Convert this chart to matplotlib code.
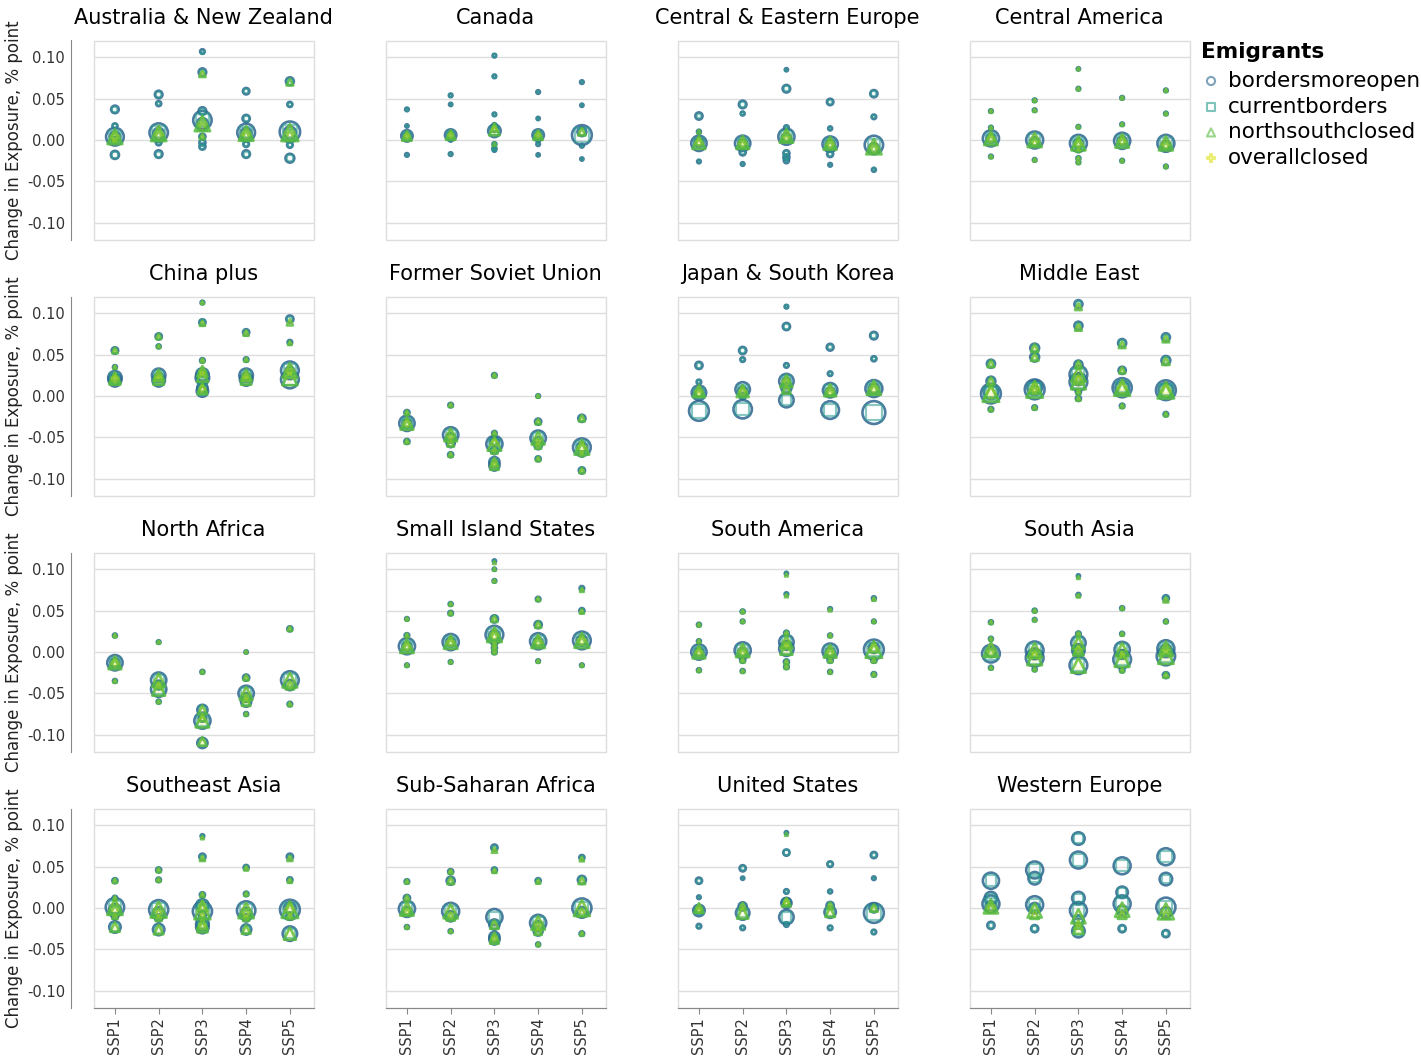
import numpy as np
import matplotlib.pyplot as plt
from matplotlib.patches import Rectangle

N = None  # scenario has no point at this spot

ssp_labels = ['SSP1', 'SSP2', 'SSP3', 'SSP4', 'SSP5']
scenarios = ['bordersmoreopen', 'currentborders', 'northsouthclosed', 'overallclosed']

# rows: (ssp, size, bordersmoreopen, currentborders, northsouthclosed, overallclosed)
aus_nz = [
    (1, 120, .004, .004, .004, .004), (1, 40, .004, .004, .004, .004), (1, 12, .0, .0, .0, .0),
    (1, 10, .017, .017, N, N), (1, 22, .037, .037, N, N), (1, 25, -.018, -.018, N, N),
    (2, 130, .009, .009, .008, .008), (2, 45, .008, .008, .006, .006), (2, 12, -.003, -.003, N, N),
    (2, 10, .044, .044, N, N), (2, 22, .055, .055, N, N), (2, 22, -.017, -.017, N, N),
    (3, 130, .024, .024, .020, .020), (3, 45, .020, .020, .017, .017), (3, 22, .035, .035, N, N),
    (3, 22, .082, .081, .080, .080), (3, 8, .107, .106, N, N), (3, 14, .004, .004, .004, .004),
    (3, 14, -.003, -.003, N, N), (3, 14, -.008, -.008, N, N),
    (4, 120, .009, .009, .008, .008), (4, 45, .008, .008, .006, .006), (4, 12, -.005, -.005, N, N),
    (4, 20, .026, .026, N, N), (4, 16, .059, .059, N, N), (4, 22, -.017, -.017, N, N),
    (5, 160, .010, .010, .009, .009), (5, 55, .009, .009, .006, .006), (5, 12, -.006, -.006, N, N),
    (5, 10, .043, .043, N, N), (5, 24, .071, .070, .070, N), (5, 30, -.022, -.022, N, N),
]
canada = [
    (1, 50, .005, .005, .005, .005), (1, 15, .005, .005, .005, .005), (1, 5, .037, .037, N, N),
    (1, 4, .017, .017, N, N), (1, 5, -.018, -.018, N, N),
    (2, 50, .006, .006, .006, .006), (2, 15, .006, .006, .006, .006), (2, 5, .054, .054, N, N),
    (2, 4, .043, .043, N, N), (2, 4, .0, .0, N, N), (2, 5, -.017, -.017, N, N),
    (3, 60, .011, .011, .012, .012), (3, 20, .014, .014, .014, .014), (3, 5, .102, .102, N, N),
    (3, 5, .077, .077, N, N), (3, 5, .031, .031, N, N), (3, 6, .018, .018, .018, N),
    (3, 6, -.005, -.005, -.005, N), (3, 6, -.010, -.010, N, N), (3, 5, -.012, -.012, N, N),
    (4, 50, .006, .006, .006, .006), (4, 15, .006, .006, .006, .006), (4, 5, .058, .058, N, N),
    (4, 4, .026, .026, N, N), (4, 5, .0, .0, N, N), (4, 5, -.005, -.005, N, N), (4, 4, -.018, -.018, N, N),
    (5, 150, .006, .006, N, N), (5, 30, .010, .010, .010, .010), (5, 5, .070, .070, N, N),
    (5, 4, .042, .042, N, N), (5, 5, -.007, -.007, N, N), (5, 4, -.023, -.023, N, N),
]
ce_europe = [
    (1, 90, -.004, -.004, -.003, -.003), (1, 30, -.003, -.003, -.002, -.002), (1, 20, .029, .029, N, N),
    (1, 6, .010, .010, .010, N), (1, 5, -.026, -.026, N, N),
    (2, 90, -.004, -.004, -.003, -.003), (2, 30, -.004, -.004, -.004, -.004), (2, 22, .043, .043, N, N),
    (2, 6, .032, .032, N, N), (2, 14, -.015, -.015, N, N), (2, 5, -.029, -.029, N, N),
    (3, 100, .004, .004, .005, .005), (3, 30, .003, .003, .003, .003), (3, 4, .085, .085, N, N),
    (3, 22, .062, .062, N, N), (3, 8, .015, .015, N, N), (3, 14, -.016, -.016, N, N),
    (3, 14, -.021, -.021, N, N), (3, 10, -.025, -.025, N, N),
    (4, 90, -.005, -.005, -.004, -.004), (4, 30, -.005, -.005, -.005, -.005), (4, 16, .046, .046, N, N),
    (4, 6, .014, .014, N, N), (4, 14, -.017, -.017, N, N), (4, 5, -.030, -.030, N, N),
    (5, 130, -.006, -.006, -.008, -.008), (5, 40, -.010, -.010, -.010, -.010), (5, 20, .056, .056, N, N),
    (5, 8, .028, .028, N, N), (5, 6, -.036, -.036, N, N),
]
central_america = [
    (1, 100, .002, .002, .002, .002), (1, 30, .002, .002, .002, .002), (1, 5, .035, .035, .035, .035),
    (1, 5, .015, .015, .015, .015), (1, 5, -.020, -.020, -.020, -.020),
    (2, 110, .0, .0, .0, .0), (2, 30, -.002, -.002, -.002, -.002), (2, 5, .048, .048, .048, .048),
    (2, 5, .036, .036, .036, .036), (2, 5, -.024, -.024, -.024, -.024),
    (3, 110, -.004, -.004, -.004, -.004), (3, 30, -.004, -.004, -.004, -.004), (3, 4, .086, .086, .086, .086),
    (3, 5, .062, .062, .062, .062), (3, 5, .016, .016, .016, .016), (3, 8, -.012, -.012, -.012, -.012),
    (3, 6, -.022, -.022, -.022, -.022), (3, 5, -.027, -.027, -.027, -.027),
    (4, 100, -.001, -.001, -.001, -.001), (4, 30, -.001, -.001, -.001, -.001), (4, 5, .051, .051, .051, .051),
    (4, 5, .019, .019, .019, .019), (4, 5, -.025, -.025, -.025, -.025),
    (5, 110, -.004, -.004, -.004, -.004), (5, 30, -.006, -.006, -.006, -.006), (5, 5, .060, .060, .060, .060),
    (5, 5, .032, .032, .032, .032), (5, 5, -.032, -.032, -.032, -.032),
]
china_plus = [
    (1, 70, .022, .022, .022, .022), (1, 60, .019, .019, .020, .020), (1, 20, .022, .022, .022, .022),
    (1, 16, .055, .055, .055, .055), (1, 6, .035, .035, .035, .035),
    (2, 70, .025, .025, .025, .025), (2, 60, .019, .019, .020, .020), (2, 20, .024, .024, .024, .024),
    (2, 15, .072, .072, .072, .072), (2, 6, .060, .060, .060, .060),
    (3, 60, .026, .026, .030, .030), (3, 70, .022, .022, .024, .024), (3, 40, .010, .010, .010, .010),
    (3, 50, .006, .006, .008, .008), (3, 20, .028, .028, .028, .028), (3, 5, .113, .113, .113, .113),
    (3, 15, .089, .089, .088, .088), (3, 8, .043, .043, .043, .043),
    (4, 70, .025, .025, .025, .025), (4, 60, .020, .020, .020, .020), (4, 20, .024, .024, .024, .024),
    (4, 15, .077, .077, .076, .076), (4, 8, .044, .044, .044, .044),
    (5, 120, .031, .031, .031, .031), (5, 120, .020, .020, .022, .022), (5, 30, .030, .030, .030, .030),
    (5, 20, .093, .093, .089, .089), (5, 8, .065, .065, .064, .064),
]
fsu = [
    (1, 90, -.033, -.033, -.033, -.033), (1, 30, -.033, -.033, -.033, -.033), (1, 10, -.020, -.020, -.020, -.020),
    (1, 10, -.055, -.055, -.055, -.055),
    (2, 90, -.047, -.047, -.047, -.047), (2, 30, -.050, -.050, -.050, -.050), (2, 25, -.057, -.057, -.057, -.057),
    (2, 8, -.011, -.011, -.011, -.011), (2, 10, -.071, -.071, -.071, -.071),
    (3, 100, -.058, -.058, -.058, -.058), (3, 30, -.055, -.055, -.055, -.055), (3, 40, -.080, -.080, -.080, -.080),
    (3, 40, -.084, -.084, -.084, -.084), (3, 8, .025, .025, .025, .025), (3, 8, -.045, -.045, -.045, -.045),
    (3, 20, -.066, -.066, -.066, -.066),
    (4, 90, -.051, -.051, -.051, -.051), (4, 30, -.055, -.055, -.055, -.055), (4, 5, .0, .0, .0, .0),
    (4, 15, -.031, -.031, -.031, -.031), (4, 10, -.076, -.076, -.076, -.076), (4, 20, -.060, -.060, -.060, -.060),
    (5, 120, -.062, -.062, -.062, -.062), (5, 40, -.062, -.062, -.062, -.062), (5, 20, -.027, -.027, -.027, -.027),
    (5, 15, -.090, -.090, -.090, -.090), (5, 10, -.070, -.070, -.070, -.070),
]
japan_korea = [
    (1, 80, .004, .004, .006, .006), (1, 30, .004, .004, .004, .004), (1, 150, -.018, -.018, N, N),
    (1, 20, .037, .037, N, N), (1, 8, .017, .017, N, N),
    (2, 80, .008, .008, .006, .006), (2, 30, .006, .006, .006, .006), (2, 130, -.016, -.016, N, N),
    (2, 20, .055, .055, N, N), (2, 8, .044, .044, N, N), (2, 15, .0, .0, N, N),
    (3, 80, .018, .018, .018, .018), (3, 40, .010, .010, .008, .008), (3, 80, -.005, -.005, N, N),
    (3, 5, .108, .108, N, N), (3, 20, .084, .084, N, N), (3, 8, .037, .037, N, N), (3, 20, .018, .018, .018, .018),
    (4, 80, .007, .007, .007, .007), (4, 30, .005, .005, .005, .005), (4, 120, -.017, -.017, N, N),
    (4, 18, .059, .059, N, N), (4, 8, .027, .027, N, N),
    (5, 110, .009, .009, .010, .010), (5, 40, .009, .009, .009, .009), (5, 200, -.020, -.020, N, N),
    (5, 22, .073, .073, N, N), (5, 10, .045, .045, N, N),
]
middle_east = [
    (1, 150, .003, .003, .003, .003), (1, 80, .005, .005, .005, .005), (1, 30, .018, .018, .018, .018),
    (1, 25, .039, .039, .039, .039), (1, 8, -.016, -.016, -.016, -.016),
    (2, 150, .008, .008, .008, .008), (2, 80, .010, .010, .010, .010), (2, 30, .058, .058, .058, .058),
    (2, 30, .047, .047, .047, .047), (2, 8, -.014, -.014, -.014, -.014), (2, 20, .008, .008, .008, .008),
    (3, 120, .026, .026, .026, .026), (3, 120, .017, .017, .017, .017), (3, 50, .020, .020, .020, .020),
    (3, 25, .111, .111, .108, .108), (3, 25, .085, .085, .083, .083), (3, 25, .038, .038, .038, .038),
    (3, 10, .005, .005, .005, .005), (3, 10, -.003, -.003, -.003, -.003),
    (4, 140, .010, .010, .010, .010), (4, 70, .010, .010, .010, .010), (4, 25, .064, .064, .062, .062),
    (4, 20, .031, .031, .031, .031), (4, 8, -.012, -.012, -.012, -.012),
    (5, 150, .007, .007, .007, .007), (5, 80, .007, .007, .007, .007), (5, 25, .071, .071, .069, .069),
    (5, 30, .043, .043, .042, .042), (5, 8, -.022, -.022, -.022, -.022),
]
north_africa = [
    (1, 90, -.013, -.013, -.013, -.013), (1, 30, -.013, -.013, -.013, -.013), (1, 6, .020, .020, .020, .020),
    (1, 6, -.035, -.035, -.035, -.035),
    (2, 90, -.034, -.034, -.034, -.034), (2, 90, -.045, -.045, -.045, -.045), (2, 30, -.040, -.040, -.040, -.040),
    (2, 5, .012, .012, .012, .012), (2, 6, -.060, -.060, -.060, -.060),
    (3, 100, -.083, -.083, -.083, -.083), (3, 40, -.070, -.070, -.070, -.070), (3, 40, -.110, -.110, -.108, -.108),
    (3, 20, -.080, -.080, -.080, -.080), (3, 6, -.024, -.024, -.024, -.024),
    (4, 90, -.050, -.050, -.050, -.050), (4, 40, -.060, -.060, -.060, -.060), (4, 30, -.055, -.055, -.055, -.055),
    (4, 15, -.031, -.031, -.031, -.031), (4, 4, .0, .0, .0, .0), (4, 6, -.075, -.075, -.075, -.075),
    (5, 120, -.034, -.034, -.034, -.034), (5, 40, -.040, -.040, -.040, -.040), (5, 10, .028, .028, .028, .028),
    (5, 8, -.063, -.063, -.063, -.063),
]
small_islands = [
    (1, 100, .007, .007, .007, .007), (1, 30, .007, .007, .007, .007), (1, 5, .040, .040, .040, .040),
    (1, 8, .020, .020, .020, .020), (1, 5, -.016, -.016, -.016, -.016),
    (2, 100, .012, .012, .012, .012), (2, 30, .012, .012, .012, .012), (2, 6, .058, .058, .058, .058),
    (2, 8, .047, .047, .047, .047), (2, 5, -.012, -.012, -.012, -.012),
    (3, 120, .021, .021, .021, .021), (3, 40, .020, .020, .020, .020), (3, 20, .040, .040, .040, .040),
    (3, 4, .110, .110, .108, .108), (3, 4, .100, .100, .100, .100), (3, 5, .086, .086, .086, .086),
    (3, 10, .010, .010, .010, .010), (3, 10, .005, .005, .005, .005), (3, 8, .0, .0, .0, .0),
    (4, 100, .013, .013, .013, .013), (4, 30, .012, .012, .012, .012), (4, 20, .033, .033, .033, .033),
    (4, 8, .064, .064, .064, .064), (4, 5, -.011, -.011, -.011, -.011),
    (5, 120, .014, .014, .014, .014), (5, 40, .014, .014, .014, .014), (5, 8, .077, .077, .075, .075),
    (5, 10, .050, .050, .049, .049), (5, 5, -.016, -.016, -.016, -.016),
]
south_america = [
    (1, 90, .0, .0, .0, .0), (1, 30, .0, .0, .0, .0), (1, 6, .033, .033, .033, .033),
    (1, 6, .013, .013, .013, .013), (1, 6, -.022, -.022, -.022, -.022),
    (2, 100, .002, .002, .002, .002), (2, 30, .0, .0, .0, .0), (2, 6, .049, .049, .049, .049),
    (2, 5, .037, .037, .037, .037), (2, 10, -.010, -.010, -.010, -.010), (2, 6, -.023, -.023, -.023, -.023),
    (3, 80, .012, .012, .012, .012), (3, 80, .004, .004, .004, .004), (3, 30, .008, .008, .008, .008),
    (3, 4, .095, .095, .093, .093), (3, 5, .070, .070, .068, .068), (3, 8, .023, .023, .023, .023),
    (3, 10, -.012, -.012, -.012, -.012), (3, 8, -.018, -.018, -.018, -.018),
    (4, 90, .001, .001, .001, .001), (4, 30, .0, .0, .0, .0), (4, 5, .052, .052, .051, .051),
    (4, 6, .020, .020, .020, .020), (4, 10, -.010, -.010, -.010, -.010), (4, 6, -.024, -.024, -.024, -.024),
    (5, 150, .003, .003, .003, .003), (5, 40, .005, .005, .005, .005), (5, 6, .065, .065, .064, .064),
    (5, 5, .037, .037, .037, .037), (5, 10, -.010, -.010, -.010, -.010), (5, 8, -.027, -.027, -.027, -.027),
]
south_asia = [
    (1, 120, -.002, -.002, .003, .003), (1, 40, .0, .0, .0, .0), (1, 6, .036, .036, .036, .036),
    (1, 6, .016, .016, .016, .016), (1, 6, -.019, -.019, -.019, -.019),
    (2, 120, .002, .002, .002, .002), (2, 120, -.007, -.007, -.007, -.007), (2, 40, -.002, -.002, -.002, -.002),
    (2, 6, .050, .050, .050, .050), (2, 5, .039, .039, .039, .039), (2, 6, -.021, -.021, -.021, -.021),
    (3, 80, .011, .011, .011, .011), (3, 60, .002, .002, .002, .002), (3, 120, -.016, -.016, -.016, -.016),
    (3, 30, .003, .003, .003, .003), (3, 4, .092, .092, .090, .090), (3, 6, .069, .069, .068, .068),
    (3, 8, .022, .022, .022, .022),
    (4, 90, .003, .003, .003, .003), (4, 120, -.009, -.009, -.009, -.009), (4, 30, -.003, -.003, -.003, -.003),
    (4, 6, .053, .053, .053, .053), (4, 6, .022, .022, .022, .022), (4, 8, -.022, -.022, -.022, -.022),
    (5, 110, .004, .004, .004, .004), (5, 130, -.005, -.005, -.005, -.005), (5, 40, .003, .003, .003, .003),
    (5, 14, .065, .065, .063, .063), (5, 6, .037, .037, .037, .037), (5, 14, -.028, -.028, -.028, -.028),
]
southeast_asia = [
    (1, 130, .001, .001, .001, .001), (1, 50, -.002, -.002, -.002, -.002), (1, 50, -.023, -.023, -.023, -.023),
    (1, 10, .033, .033, .033, .033), (1, 8, .012, .012, .012, .012), (1, 15, -.010, -.010, -.010, -.010),
    (2, 140, -.002, -.002, -.002, -.002), (2, 50, -.006, -.006, -.006, -.006), (2, 20, -.012, -.012, -.012, -.012),
    (2, 50, -.026, -.026, -.026, -.026), (2, 10, .046, .046, .046, .046), (2, 8, .034, .034, .034, .034),
    (3, 140, -.004, -.004, -.004, -.004), (3, 60, .003, .003, .003, .003), (3, 60, -.019, -.019, -.019, -.019),
    (3, 60, -.023, -.023, -.023, -.023), (3, 20, -.008, -.008, -.008, -.008), (3, 5, .087, .087, .085, .085),
    (3, 15, .062, .062, .060, .060), (3, 10, .016, .016, .016, .016),
    (4, 130, -.003, -.003, -.003, -.003), (4, 40, -.006, -.006, -.006, -.006), (4, 20, -.012, -.012, -.012, -.012),
    (4, 40, -.026, -.026, -.026, -.026), (4, 10, .049, .049, .048, .048), (4, 8, .017, .017, .017, .017),
    (5, 150, -.002, -.002, -.002, -.002), (5, 50, .0, .0, .0, .0), (5, 80, -.031, -.031, -.031, -.031),
    (5, 20, -.010, -.010, -.010, -.010), (5, 15, .062, .062, .060, .060), (5, 10, .034, .034, .033, .033),
]
ss_africa = [
    (1, 100, -.001, -.001, -.001, -.001), (1, 30, -.004, -.004, -.004, -.004), (1, 15, .012, .012, .012, .012),
    (1, 8, .032, .032, .032, .032), (1, 6, -.023, -.023, -.023, -.023),
    (2, 110, -.004, -.004, -.004, -.004), (2, 40, -.010, -.010, -.010, -.010), (2, 25, .033, .033, .033, .033),
    (2, 10, .044, .044, .044, .044), (2, 6, -.028, -.028, -.028, -.028),
    (3, 100, -.011, -.011, N, N), (3, 40, -.020, -.020, -.020, -.020), (3, 40, -.035, -.035, -.035, -.035),
    (3, 40, -.038, -.038, -.038, -.038), (3, 15, .073, .073, .070, .070), (3, 10, .046, .046, .045, .045),
    (4, 100, -.018, -.018, -.018, -.018), (4, 40, -.022, -.022, -.022, -.022), (4, 30, -.028, -.028, -.028, -.028),
    (4, 10, .033, .033, .032, .032), (4, 6, -.044, -.044, -.044, -.044),
    (5, 140, .0, .0, .0, .0), (5, 40, -.005, -.005, -.005, -.005), (5, 25, .034, .034, .033, .033),
    (5, 10, .061, .061, .059, .059), (5, 8, -.031, -.031, -.031, -.031),
]
united_states = [
    (1, 50, -.003, -.003, .0, .0), (1, 20, -.002, -.002, -.002, -.002), (1, 15, .033, .033, N, N),
    (1, 5, .013, .013, N, N), (1, 8, -.022, -.022, N, N),
    (2, 70, -.006, -.006, -.006, -.006), (2, 25, .002, .002, .002, .002), (2, 15, .048, .048, N, N),
    (2, 4, .036, .036, N, N), (2, 8, -.024, -.024, N, N),
    (3, 40, .006, .006, .007, .007), (3, 80, -.011, -.011, N, N), (3, 25, .007, .007, .007, .007),
    (3, 4, .091, .091, .089, N), (3, 15, .067, .067, N, N), (3, 8, .020, .020, N, N), (3, 8, -.020, -.020, N, N),
    (4, 50, -.005, -.005, -.005, -.005), (4, 20, .003, .003, .003, .003), (4, 12, .053, .053, N, N),
    (4, 6, .020, .020, N, N), (4, 8, -.024, -.024, N, N),
    (5, 150, -.006, -.006, N, N), (5, 30, .0, .0, .0, .0), (5, 15, .064, .064, N, N),
    (5, 5, .036, .036, N, N), (5, 8, -.029, -.029, N, N),
]
western_europe = [
    (1, 100, .033, .033, N, N), (1, 60, .012, .012, N, N), (1, 110, .005, .005, .002, .002),
    (1, 40, .002, .002, .0, .0), (1, 20, -.021, -.021, N, N),
    (2, 110, .046, .046, N, N), (2, 60, .036, .036, N, N), (2, 110, .004, .004, -.003, -.003),
    (2, 40, .0, .0, -.008, -.008), (2, 20, -.025, -.025, N, N),
    (3, 60, .084, .084, N, N), (3, 110, .058, .058, N, N), (3, 60, .012, .012, N, N),
    (3, 110, -.003, -.003, -.010, -.010), (3, 40, -.015, -.015, -.020, -.020), (3, 60, -.028, -.028, -.025, -.025),
    (4, 110, .051, .051, N, N), (4, 50, .019, .019, N, N), (4, 110, .005, .005, -.002, -.002),
    (4, 40, -.003, -.003, -.008, -.008), (4, 20, -.025, -.025, N, N),
    (5, 110, .062, .062, N, N), (5, 60, .035, .035, N, N), (5, 140, .001, .001, -.004, -.004),
    (5, 40, -.005, -.005, -.008, -.008), (5, 20, -.031, -.031, N, N),
]

regions = [
    ('Australia & New Zealand', aus_nz), ('Canada', canada),
    ('Central & Eastern Europe', ce_europe), ('Central America', central_america),
    ('China plus', china_plus), ('Former Soviet Union', fsu),
    ('Japan & South Korea', japan_korea), ('Middle East', middle_east),
    ('North Africa', north_africa), ('Small Island States', small_islands),
    ('South America', south_america), ('South Asia', south_asia),
    ('Southeast Asia', southeast_asia), ('Sub-Saharan Africa', ss_africa),
    ('United States', united_states), ('Western Europe', western_europe),
]

colors = ['#2c6690', '#2a9d8f', '#58bb40', '#dde318']
markers = ['o', 's', '^', 'P']
size_scale = 1.35                     # data size -> points^2
shape_fix = [1.0, 0.45, 0.7, 0.3]     # per shape, so inner shapes sit inside the rings
alphas = [0.85, 0.55, 0.85, 0.2]
widths = [1.9, 1.6, 1.9, 1.2]
draw_order = [3, 1, 0, 2]             # yellow first, then squares, circles, triangles on top

W, H = 1421, 1057
fig = plt.figure(figsize=(W / 100, H / 100), dpi=100)

col_x = [93.5, 385.5, 677.5, 969.5]
row_y = [40.5, 296.5, 552.5, 808.5]
pw, ph = 220, 199

for i, (name, rows) in enumerate(regions):
    r, c = divmod(i, 4)
    ax = fig.add_axes([col_x[c] / W, 1 - (row_y[r] + ph) / H, pw / W, ph / H])
    ax.set_xlim(-0.49, 4.54)
    ax.set_ylim(-0.1203, 0.1203)
    ax.set_yticks([-0.10, -0.05, 0.0, 0.05, 0.10])
    ax.set_xticks(range(5))
    ax.yaxis.grid(True, color='#dddddd', lw=1)
    ax.set_axisbelow(True)
    for sp in ax.spines.values():
        sp.set_visible(False)
    ax.add_patch(Rectangle((0, 0), 1, 1, transform=ax.transAxes, fill=False,
                           edgecolor='#dddddd', lw=1, clip_on=False, zorder=0))

    for k in draw_order:
        xs, ys, ss = [], [], []
        for row in rows:
            v = row[2 + k]
            if v is None:
                continue
            xs.append(row[0] - 1)
            ys.append(v)
            ss.append(row[1] * size_scale * shape_fix[k])
        ax.scatter(xs, ys, s=ss, marker=markers[k], facecolors='none',
                   edgecolors=colors[k], linewidths=widths[k], alpha=alphas[k], zorder=2 + k)

    ax.set_title(name, fontsize=15, pad=12)

    if c == 0:
        ax.spines['left'].set_visible(True)
        ax.spines['left'].set_position(('outward', 16.5))
        ax.spines['left'].set_color('#888888')
        ax.tick_params(axis='y', length=0, pad=4, labelsize=10.5, labelcolor='#333333')
        ax.set_yticklabels(['-0.10', '-0.05', '0.00', '0.05', '0.10'])
        fig.text(14 / W, 1 - (row_y[r] + ph / 2) / H, 'Change in Exposure, % point',
                 rotation=90, ha='center', va='center', fontsize=12, color='#222222')
    else:
        ax.tick_params(axis='y', length=0, labelleft=False)

    if r == 3:
        ax.spines['bottom'].set_visible(True)
        ax.spines['bottom'].set_color('#888888')
        ax.tick_params(axis='x', length=4, color='#888888', pad=3, labelsize=10.5,
                       labelcolor='#333333')
        ax.set_xticklabels(ssp_labels, rotation=90)
    else:
        ax.tick_params(axis='x', length=0, labelbottom=False)

# legend
lg = fig.add_axes([0, 0, 1, 1])
lg.set_xlim(0, W)
lg.set_ylim(H, 0)
lg.axis('off')
lg.text(1201, 52, 'Emigrants', fontsize=15.5, fontweight='bold', va='center', ha='left')
leg_size = [34, 30, 34, 34]
for k, name in enumerate(scenarios):
    y = 81 + 25.7 * k
    lg.scatter([1211], [y], s=leg_size[k], marker=markers[k], facecolors='none',
               edgecolors=colors[k], linewidths=1.5, alpha=0.6)
    lg.text(1228, y, name, fontsize=15.5, va='center', ha='left')

fig.savefig('out.png', dpi=100)
